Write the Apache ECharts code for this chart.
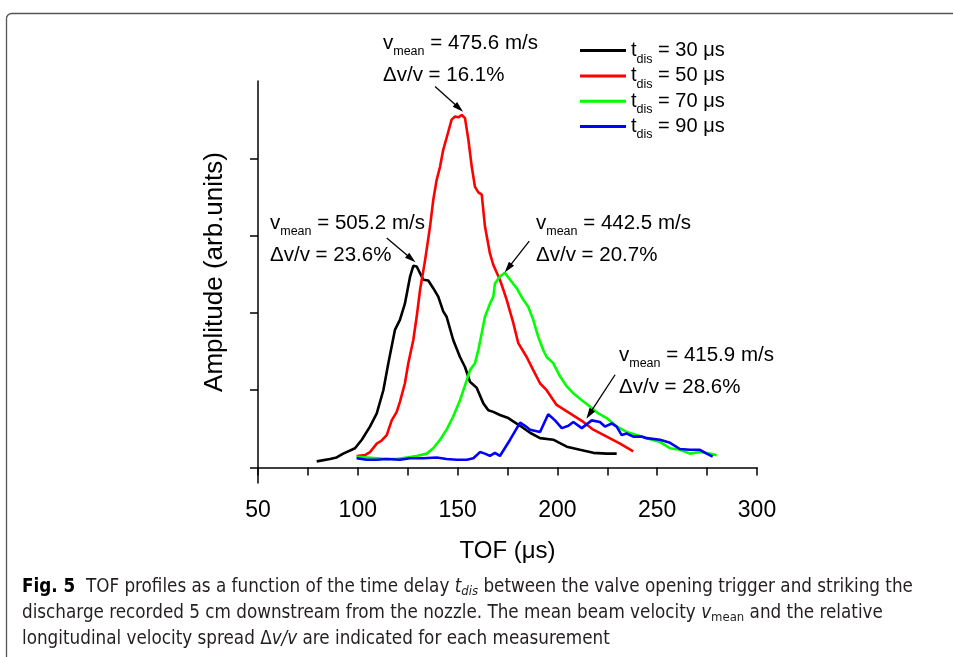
<!DOCTYPE html>
<html>
<head>
<meta charset="utf-8">
<script src="https://cdn.jsdelivr.net/npm/echarts@6/dist/echarts.min.js"></script>
<style>
html, body { margin: 0; padding: 0; background: #fff; }
#chart { width: 953px; height: 657px; }
</style>
</head>
<body>
<div id="chart"></div>
<script>
// TOF profiles (x: time of flight in us, y: amplitude in arb. units)
const tdis = [30, 50, 70, 90]
const colors = ['#000000', '#ff0000', '#00ff00', '#0000ff']

const tof30 = [79.4, 86.1, 89.4, 92.7, 98.6, 102.0, 106.1, 109.5, 112.8, 115.3, 118.6, 121.1, 123.6, 126.2, 127.8, 129.5, 132.8, 135.3, 137.8, 140.3, 142.8, 144.5, 147.8, 151.2, 153.7, 156.2, 159.6, 162.9, 165.4, 167.9, 171.2, 175.4, 181.3, 186.3, 191.3, 197.9, 204.7, 211.3, 218.0, 224.7, 229.7]
const amp30 = [0.08, 0.11, 0.13, 0.18, 0.25, 0.36, 0.53, 0.70, 1.00, 1.35, 1.78, 1.91, 2.12, 2.47, 2.61, 2.60, 2.43, 2.42, 2.32, 2.21, 2.02, 1.95, 1.65, 1.43, 1.30, 1.11, 1.03, 0.83, 0.74, 0.72, 0.68, 0.64, 0.54, 0.45, 0.38, 0.36, 0.27, 0.23, 0.19, 0.18, 0.18]

const tof50 = [99.4, 103.6, 106.1, 109.5, 112.0, 114.5, 117.0, 119.5, 121.1, 123.6, 125.3, 127.8, 129.5, 131.2, 133.7, 136.2, 137.8, 139.5, 141.2, 142.8, 145.3, 147.0, 148.7, 150.4, 152.1, 153.7, 155.4, 157.1, 158.7, 160.4, 162.1, 163.7, 166.2, 167.9, 171.2, 174.6, 177.9, 180.4, 184.6, 187.9, 191.3, 194.6, 199.6, 206.3, 213.0, 218.0, 224.7, 231.4, 238.0]
const amp50 = [0.15, 0.16, 0.20, 0.31, 0.35, 0.42, 0.61, 0.72, 0.85, 1.09, 1.35, 1.65, 1.95, 2.30, 2.68, 3.12, 3.46, 3.72, 3.89, 4.11, 4.34, 4.50, 4.54, 4.53, 4.56, 4.52, 4.24, 3.89, 3.63, 3.56, 3.53, 3.12, 2.77, 2.62, 2.43, 2.17, 1.87, 1.61, 1.43, 1.26, 1.09, 1.00, 0.81, 0.70, 0.59, 0.49, 0.40, 0.31, 0.21]

const tof70 = [99.4, 104.5, 109.5, 114.5, 119.5, 124.5, 129.5, 134.5, 137.8, 141.2, 144.5, 147.8, 151.2, 154.6, 156.2, 158.7, 160.4, 162.1, 163.7, 166.2, 167.9, 168.7, 171.2, 173.7, 176.3, 179.6, 182.9, 185.4, 187.9, 190.4, 192.9, 194.6, 197.9, 201.3, 204.7, 208.0, 212.2, 216.3, 220.5, 224.7, 229.7, 234.7, 239.7, 244.7, 251.4, 256.4, 261.4, 266.4, 271.4, 276.5, 279.8]
const amp70 = [0.14, 0.13, 0.12, 0.11, 0.11, 0.13, 0.15, 0.18, 0.25, 0.36, 0.49, 0.66, 0.87, 1.13, 1.26, 1.35, 1.52, 1.74, 1.95, 2.12, 2.21, 2.38, 2.47, 2.52, 2.43, 2.32, 2.17, 2.08, 1.91, 1.69, 1.52, 1.43, 1.35, 1.18, 1.05, 0.96, 0.87, 0.79, 0.70, 0.64, 0.53, 0.46, 0.42, 0.38, 0.33, 0.25, 0.23, 0.18, 0.20, 0.18, 0.16]

const tof90 = [99.4, 104.5, 109.5, 114.5, 121.1, 126.2, 132.8, 139.5, 144.5, 149.5, 154.6, 157.9, 161.2, 163.7, 166.2, 168.7, 171.2, 176.3, 181.3, 183.8, 186.3, 191.3, 195.4, 198.8, 202.2, 205.5, 208.0, 212.2, 217.2, 221.3, 223.8, 227.2, 229.7, 232.2, 234.7, 238.0, 242.2, 244.7, 251.4, 256.4, 261.4, 266.4, 271.4, 274.8, 277.8]
const amp90 = [0.12, 0.10, 0.10, 0.11, 0.10, 0.12, 0.12, 0.13, 0.11, 0.10, 0.10, 0.12, 0.20, 0.18, 0.15, 0.19, 0.15, 0.36, 0.58, 0.54, 0.49, 0.46, 0.69, 0.61, 0.51, 0.54, 0.59, 0.51, 0.61, 0.59, 0.53, 0.57, 0.53, 0.42, 0.44, 0.40, 0.40, 0.38, 0.36, 0.32, 0.24, 0.23, 0.23, 0.18, 0.14]

const xTickLabels = [50, 100, 150, 200, 250, 300]
const yTicks = [0, 1, 2, 3, 4]

// annotations: mean velocity / spread, arrows in data coords
const vMean = ['475.6', '505.2', '442.5', '415.9']
const spread = ['16.1', '23.6', '20.7', '28.6']
const arrowFrom = [[138.7, 4.93], [114.5, 2.97], [185.9, 2.93], [228.9, 1.20]]
const arrowTo = [[150.7, 4.65], [126.8, 2.70], [175.3, 2.58], [216.0, 0.69]]
const notePos = [[383, 27], [270, 207], [536, 207], [619, 339]]

const FONT = '"Liberation Sans", Arial, sans-serif'
const CAPTION_FONT = '"Liberation Sans Narrow", "DejaVu Sans Condensed", sans-serif'

const chart = echarts.init(document.getElementById('chart'))

const tofs = [tof30, tof50, tof70, tof90]
const amps = [amp30, amp50, amp70, amp90]

const series = tdis.map((d, k) => ({
    name: String(d),
    type: 'line',
    showSymbol: false,
    silent: true,
    color: colors[k],
    lineStyle: { width: 2.6, color: colors[k] },
    data: tofs[k].map((t, i) => [t, amps[k][i]])
}))

series[0].markLine = {
    silent: true,
    symbol: ['none', 'path://M0,0 M10,10 M5,0 L8,10 L2,10 Z'],
    symbolSize: 11,
    label: { show: false },
    lineStyle: { color: '#000', width: 1.3, type: 'solid' },
    data: arrowFrom.map((p, i) => [{ coord: p }, { coord: arrowTo[i] }])
}

const noteRich = {
    v: { fontSize: 20.5, fontFamily: FONT, lineHeight: 32 },
    s: { fontSize: 12.5, fontFamily: FONT, lineHeight: 32, padding: [17, 0, 0, 0] }
}
const notes = vMean.map((v, i) => ({
    type: 'text',
    x: notePos[i][0],
    y: notePos[i][1],
    silent: true,
    style: {
        text: '{v|v}{s|mean}{v| = ' + v + ' m/s}\n{v|\u0394v/v = ' + spread[i] + '%}',
        rich: noteRich,
        fill: '#000',
        align: 'left',
        verticalAlign: 'top'
    }
}))

const capRich = {
    b: { fontSize: 18.7, fontFamily: CAPTION_FONT, fontWeight: 'bold', lineHeight: 26, fill: '#000' },
    n: { fontSize: 18.7, fontFamily: CAPTION_FONT, lineHeight: 26 },
    i: { fontSize: 18.7, fontFamily: CAPTION_FONT, fontStyle: 'italic', lineHeight: 26 },
    is: { fontSize: 13, fontFamily: CAPTION_FONT, fontStyle: 'italic', lineHeight: 26, padding: [9, 0, 0, 0] },
    s: { fontSize: 13, fontFamily: CAPTION_FONT, lineHeight: 26, padding: [9, 0, 0, 0] }
}
const caption = {
    type: 'text',
    x: 22,
    y: 574,
    silent: true,
    style: {
        text: '{b|Fig. 5}{n|  TOF profiles as a function of the time delay }{i|t}{is|dis}{n| between the valve opening trigger and striking the}\n' +
            '{n|discharge recorded 5 cm downstream from the nozzle. The mean beam velocity }{i|v}{s|mean}{n| and the relative}\n' +
            '{n|longitudinal velocity spread }{n|\u0394}{i|v/v}{n| are indicated for each measurement}',
        rich: capRich,
        fill: '#231f20',
        align: 'left',
        verticalAlign: 'top'
    }
}

const option = {
    backgroundColor: '#fff',
    animation: false,
    grid: { left: 258, right: 196, top: 81, bottom: 174, outerBoundsMode: 'none' },
    legend: {
        orient: 'vertical',
        left: 580,
        top: 35.6,
        padding: 0,
        itemGap: -4.7,
        itemWidth: 46,
        itemHeight: 3,
        icon: 'rect',
        selectedMode: false,
        data: tdis.map(String),
        formatter: n => '{t|t}{s|dis}{t| = ' + n + ' \u03bcs}',
        textStyle: {
            color: '#000',
            fontFamily: FONT,
            rich: {
                t: { fontSize: 20, fontFamily: FONT, lineHeight: 25.3 },
                s: { fontSize: 12.5, fontFamily: FONT, lineHeight: 25.3, padding: [17, 0, 0, 0] }
            }
        }
    },
    xAxis: {
        type: 'value',
        min: 50,
        max: 300,
        interval: 25,
        name: 'TOF (\u03bcs)',
        nameLocation: 'middle',
        nameGap: 56,
        nameTextStyle: { fontSize: 24, fontFamily: FONT, color: '#000' },
        axisLine: { lineStyle: { color: '#000', width: 1.5 } },
        axisTick: { length: 8, lineStyle: { color: '#000', width: 1.5 } },
        axisLabel: { customValues: xTickLabels, fontSize: 23, fontFamily: FONT, color: '#000', margin: 16 },
        splitLine: { show: false }
    },
    yAxis: {
        type: 'value',
        min: -0.2,
        max: 5,
        name: 'Amplitude (arb.units)',
        nameLocation: 'middle',
        nameGap: 30,
        nameTextStyle: { fontSize: 26, fontFamily: FONT, color: '#000', padding: [0, 0, 0, 20] },
        axisLine: { show: true, lineStyle: { color: '#000', width: 1.5 } },
        axisTick: { show: true, length: 8, customValues: yTicks, lineStyle: { color: '#000', width: 1.5 } },
        axisLabel: { show: false },
        splitLine: { show: false }
    },
    graphic: [
        {
            type: 'rect',
            silent: true,
            shape: { x: 6.5, y: 13.5, width: 1000, height: 700, r: [5, 0, 0, 0] },
            style: { fill: 'none', stroke: '#555', lineWidth: 1.3 }
        },
        ...notes,
        caption
    ],
    series: series
}

chart.setOption(option)
</script>
</body>
</html>
